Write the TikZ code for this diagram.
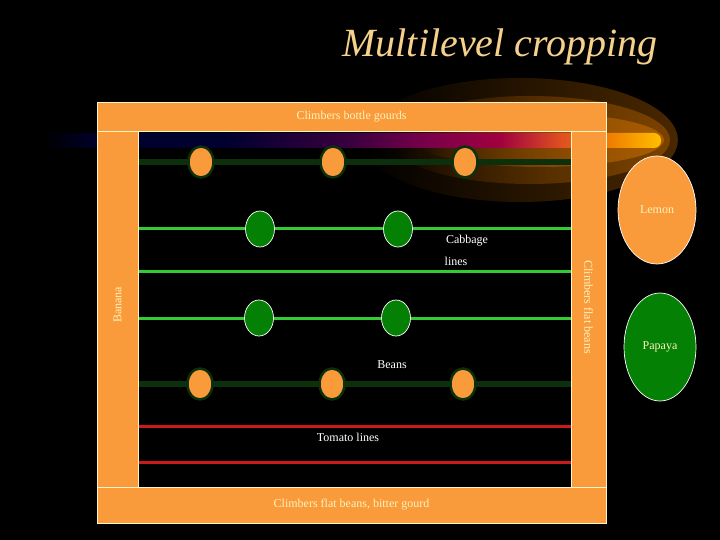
\documentclass[tikz,border=0pt]{standalone}
\usepackage{fontspec}
\setmainfont{Liberation Serif}
\usetikzlibrary{fadings,shapes.geometric}
\definecolor{orng}{HTML}{F99B3A}
\definecolor{edgec}{HTML}{FFF4C8}
\definecolor{dkgreen}{HTML}{0B300B}
\definecolor{ltgreen}{HTML}{33CC33}
\definecolor{grn}{HTML}{048004}
\definecolor{redl}{HTML}{CC1A1A}
\definecolor{titlec}{HTML}{F5D18C}
\definecolor{txty}{HTML}{FFF2C0}
\definecolor{navyc}{HTML}{00002E}
\definecolor{purpc}{HTML}{3A0040}
\definecolor{magc}{HTML}{78004A}
\definecolor{crimc}{HTML}{A00040}
\definecolor{redoc}{HTML}{E05020}
\definecolor{orc}{HTML}{F08000}
\definecolor{yelc}{HTML}{FFC000}
\definecolor{halo1}{HTML}{4A2800}
\definecolor{halo2}{HTML}{7A4200}
\definecolor{halo3}{HTML}{A85C00}
\pgfdeclarehorizontalshading{comet}{100bp}{color(0bp)=(black); color(25bp)=(black); color(30bp)=(navyc); color(40bp)=(navyc); color(50bp)=(purpc); color(56bp)=(magc); color(62bp)=(crimc); color(67bp)=(redoc); color(71bp)=(orc); color(75bp)=(yelc); color(100bp)=(yelc)}
\tikzfading[name=fadein, left color=transparent!100, right color=transparent!0]
\tikzset{
  strip/.style={draw=edgec, line width=0.8pt, fill=orng, inner sep=0pt},
  striptext/.style={text=txty, font=\fontsize{12}{14}\selectfont, inner sep=0pt},
  blacktext/.style={text=white, font=\fontsize{12}{14}\selectfont, inner sep=0pt},
  darkrow/.style={draw=dkgreen, line width=5.5pt},
  lightrow/.style={draw=ltgreen, line width=3pt},
  redrow/.style={draw=redl, line width=3pt},
  orangeplant/.style={ellipse, fill=orng, draw=dkgreen, line width=2.5pt, minimum width=25pt, minimum height=31pt, inner sep=0pt},
  greenplant/.style={ellipse, fill=grn, draw=white, line width=0.7pt, minimum width=29pt, minimum height=36pt, inner sep=0pt},
  bigtree/.style={ellipse, draw=white, line width=0.7pt, inner sep=0pt, text=txty, font=\fontsize{12}{14}\selectfont},
}
\begin{document}
\begin{tikzpicture}[x=1pt,y=-1pt]
\fill[black] (0,0) rectangle (720,540);
\useasboundingbox (0,0) rectangle (720,540);
% title
\node[text=titlec, font=\itshape\fontsize{40}{44}\selectfont, inner sep=0pt] (title) at (500,47) {Multilevel cropping};
% comet halo
\fill[halo1, path fading=fadein] (520,140) ellipse [x radius=158, y radius=62];
\fill[halo2, path fading=fadein] (530,140) ellipse [x radius=140, y radius=44];
\fill[halo3, path fading=fadein] (540,140) ellipse [x radius=124, y radius=27];
\shade[shading=comet, rounded corners=7pt] (40,133) rectangle (661,148);
% rows
\coordinate (r1l) at (138,162); \coordinate (r1r) at (571,162);
\coordinate (r2l) at (138,229); \coordinate (r2r) at (571,229);
\coordinate (r3l) at (138,271); \coordinate (r3r) at (571,271);
\coordinate (r4l) at (138,318); \coordinate (r4r) at (571,318);
\coordinate (r5l) at (138,384); \coordinate (r5r) at (571,384);
\coordinate (r6l) at (138,426); \coordinate (r6r) at (571,426);
\coordinate (r7l) at (138,462); \coordinate (r7r) at (571,462);
\draw[darkrow] (r1l) -- (r1r);
\draw[lightrow] (r2l) -- (r2r);
\draw[lightrow] (r3l) -- (r3r);
\draw[lightrow] (r4l) -- (r4r);
\draw[darkrow] (r5l) -- (r5r);
\draw[redrow] (r6l) -- (r6r);
\draw[redrow] (r7l) -- (r7r);
% plants
\node[orangeplant] (o11) at (201,162) {};
\node[orangeplant] (o12) at (333,162) {};
\node[orangeplant] (o13) at (465,162) {};
\node[greenplant] (g21) at (260,229) {};
\node[greenplant] (g22) at (398,229) {};
\node[greenplant] (g41) at (259,318) {};
\node[greenplant] (g42) at (396,318) {};
\node[orangeplant] (o51) at (200,384) {};
\node[orangeplant] (o52) at (332,384) {};
\node[orangeplant] (o53) at (463,384) {};
% labels in field
\node[blacktext] (cab) at (467,241) {Cabbage};
\node[blacktext] (lines) at (456,261) {lines};
\node[blacktext] (beans) at (392,365) {Beans};
\node[blacktext] (tomato) at (348,437) {Tomato lines};
% frame strips
\node[strip, minimum width=509pt, minimum height=29pt] (top) at (351.5,116.5) {};
\node[strip, minimum width=41pt, minimum height=356pt] (left) at (117.5,309) {};
\node[strip, minimum width=35pt, minimum height=356pt] (right) at (588.5,309) {};
\node[strip, minimum width=509pt, minimum height=36pt] (bottom) at (351.5,505) {};
\node[striptext] (toplab) at (top) {Climbers bottle gourds};
\node[striptext] (botlab) at (bottom) {Climbers flat beans, bitter gourd};
\node[striptext, rotate=90] (leftlab) at (117.5,305) {Banana};
\node[striptext, rotate=-90] (rightlab) at (588.5,307) {Climbers flat beans};
% outside trees
\node[bigtree, fill=orng, minimum width=78pt, minimum height=108pt] (lemon) at (657,210) {Lemon};
\node[bigtree, fill=grn, minimum width=72pt, minimum height=108pt] (papaya) at (660,347) {Papaya};
\end{tikzpicture}
\end{document}
